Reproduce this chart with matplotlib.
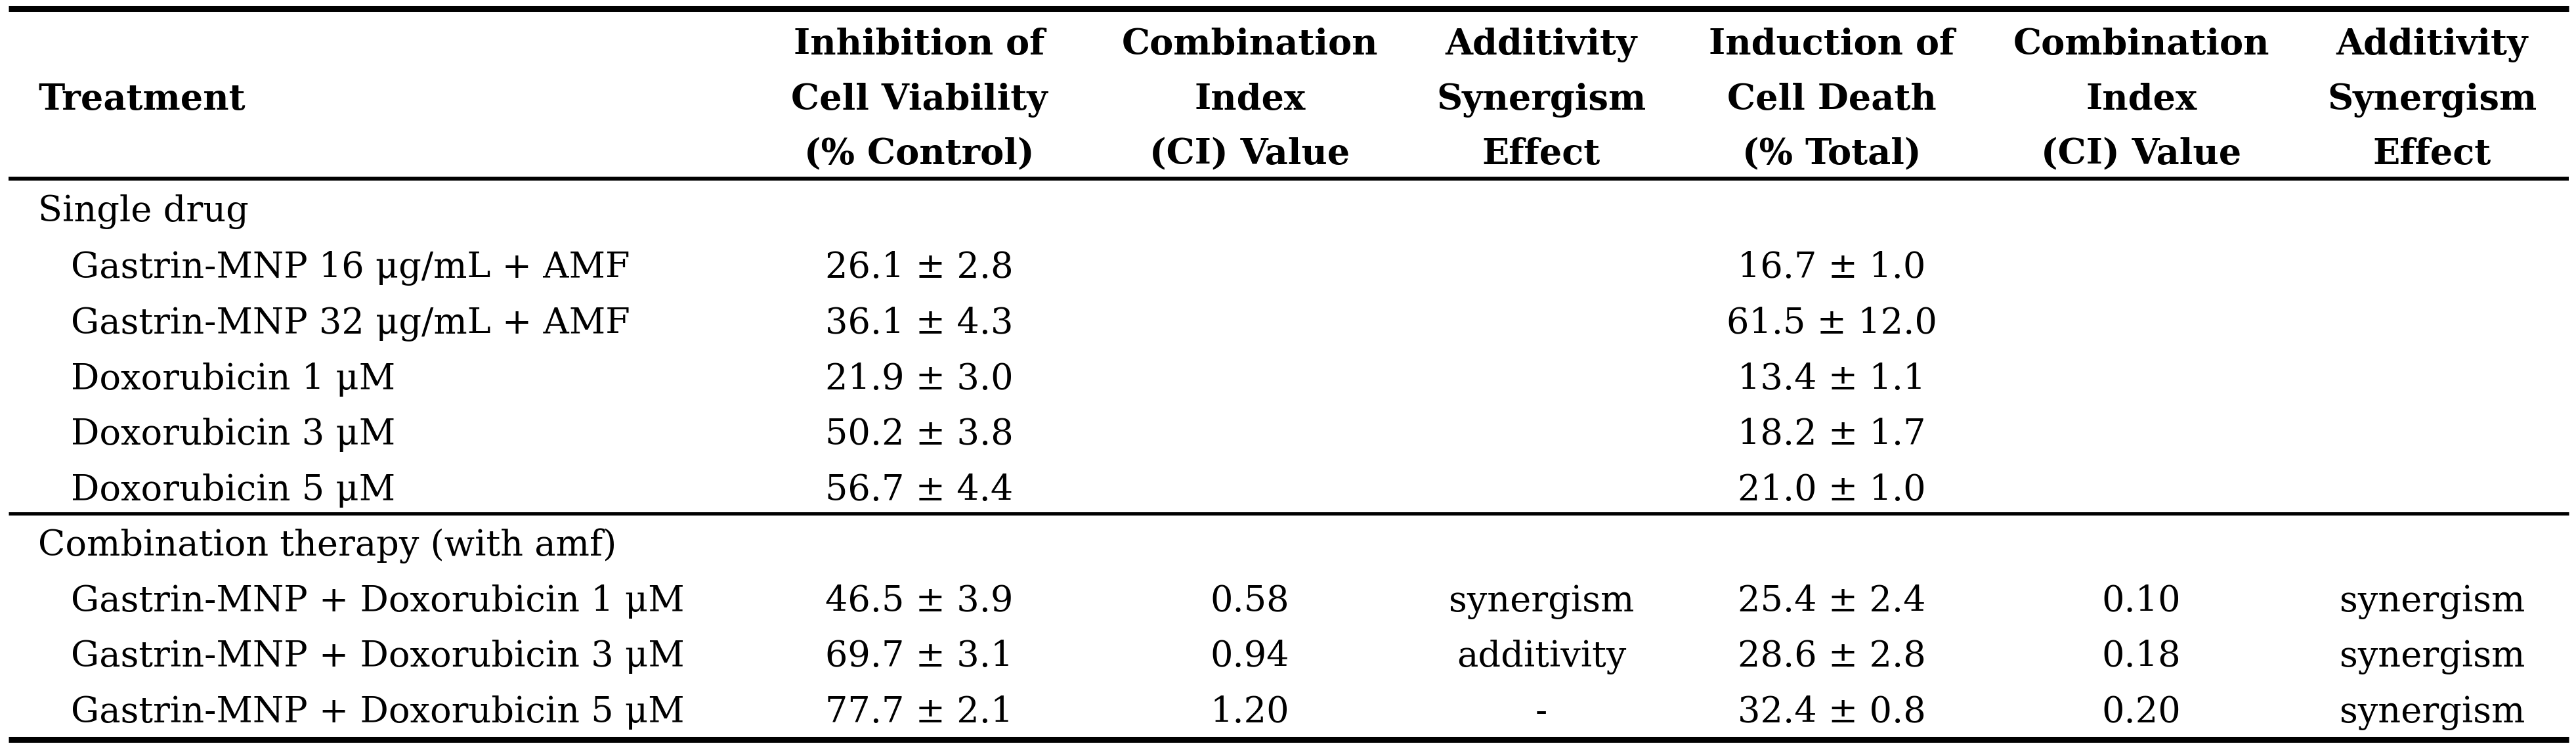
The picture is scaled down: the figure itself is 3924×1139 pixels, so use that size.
import matplotlib
matplotlib.use('Agg')
import matplotlib.pyplot as plt

# Table contents
header_cols = [
    ['Inhibition of', 'Cell Viability', '(% Control)'],
    ['Combination', 'Index', '(CI) Value'],
    ['Additivity', 'Synergism', 'Effect'],
    ['Induction of', 'Cell Death', '(% Total)'],
    ['Combination', 'Index', '(CI) Value'],
    ['Additivity', 'Synergism', 'Effect'],
]

single_treatments = ['Gastrin-MNP 16 μg/mL + AMF', 'Gastrin-MNP 32 μg/mL + AMF',
                     'Doxorubicin 1 μM', 'Doxorubicin 3 μM', 'Doxorubicin 5 μM']
single_viab_mean = [26.1, 36.1, 21.9, 50.2, 56.7]
single_viab_sd = [2.8, 4.3, 3.0, 3.8, 4.4]
single_death_mean = [16.7, 61.5, 13.4, 18.2, 21.0]
single_death_sd = [1.0, 12.0, 1.1, 1.7, 1.0]

combo_treatments = ['Gastrin-MNP + Doxorubicin 1 μM', 'Gastrin-MNP + Doxorubicin 3 μM',
                    'Gastrin-MNP + Doxorubicin 5 μM']
combo_viab_mean = [46.5, 69.7, 77.7]
combo_viab_sd = [3.9, 3.1, 2.1]
combo_viab_ci = ['0.58', '0.94', '1.20']
combo_viab_effect = ['synergism', 'additivity', '-']
combo_death_mean = [25.4, 28.6, 32.4]
combo_death_sd = [2.4, 2.8, 0.8]
combo_death_ci = ['0.10', '0.18', '0.20']
combo_death_effect = ['synergism', 'synergism', 'synergism']

# Layout (pixel coordinates)
W, H = 3924, 1139
col_x = [1400, 1904, 2348, 2790, 3262, 3705]
x_group, x_item = 58, 108
header_base = [83, 167, 250]
single_label_y = 337
single_rows_y = [423, 508, 593, 677, 762]
combo_label_y = 846
combo_rows_y = [931, 1015, 1100]
fs = 39
font = 'DejaVu Serif'

fig = plt.figure(figsize=(W / 100, H / 100), dpi=100)
ax = fig.add_axes([0, 0, 1, 1])
ax.set_xlim(0, W)
ax.set_ylim(H, 0)
ax.axis('off')


def put(x, y, s, ha='left', bold=False):
    ax.text(x, y, s, ha=ha, va='baseline', fontsize=fs, family=font,
            fontweight='bold' if bold else 'normal', color='black')


def pm(m, s):
    return f'{m:.1f} ± {s:.1f}'


# rules
ax.plot([13, 3913], [12.5, 12.5], color='black', lw=6.5, solid_capstyle='butt')
ax.plot([13, 3913], [272, 272], color='black', lw=4.3, solid_capstyle='butt')
ax.plot([13, 3913], [782, 782], color='black', lw=3.6, solid_capstyle='butt')
ax.plot([13, 3913], [1126, 1126], color='black', lw=6.5, solid_capstyle='butt')

# header
put(x_group, header_base[1], 'Treatment', bold=True)
for x, lines in zip(col_x, header_cols):
    for y, s in zip(header_base, lines):
        put(x, y, s, ha='center', bold=True)

# single drug block
put(x_group, single_label_y, 'Single drug')
for i, y in enumerate(single_rows_y):
    put(x_item, y, single_treatments[i])
    put(col_x[0], y, pm(single_viab_mean[i], single_viab_sd[i]), ha='center')
    put(col_x[3], y, pm(single_death_mean[i], single_death_sd[i]), ha='center')

# combination block
put(x_group, combo_label_y, 'Combination therapy (with amf)')
for i, y in enumerate(combo_rows_y):
    put(x_item, y, combo_treatments[i])
    put(col_x[0], y, pm(combo_viab_mean[i], combo_viab_sd[i]), ha='center')
    put(col_x[1], y, combo_viab_ci[i], ha='center')
    put(col_x[2], y, combo_viab_effect[i], ha='center')
    put(col_x[3], y, pm(combo_death_mean[i], combo_death_sd[i]), ha='center')
    put(col_x[4], y, combo_death_ci[i], ha='center')
    put(col_x[5], y, combo_death_effect[i], ha='center')

fig.savefig('out.png', dpi=100, facecolor='white')
